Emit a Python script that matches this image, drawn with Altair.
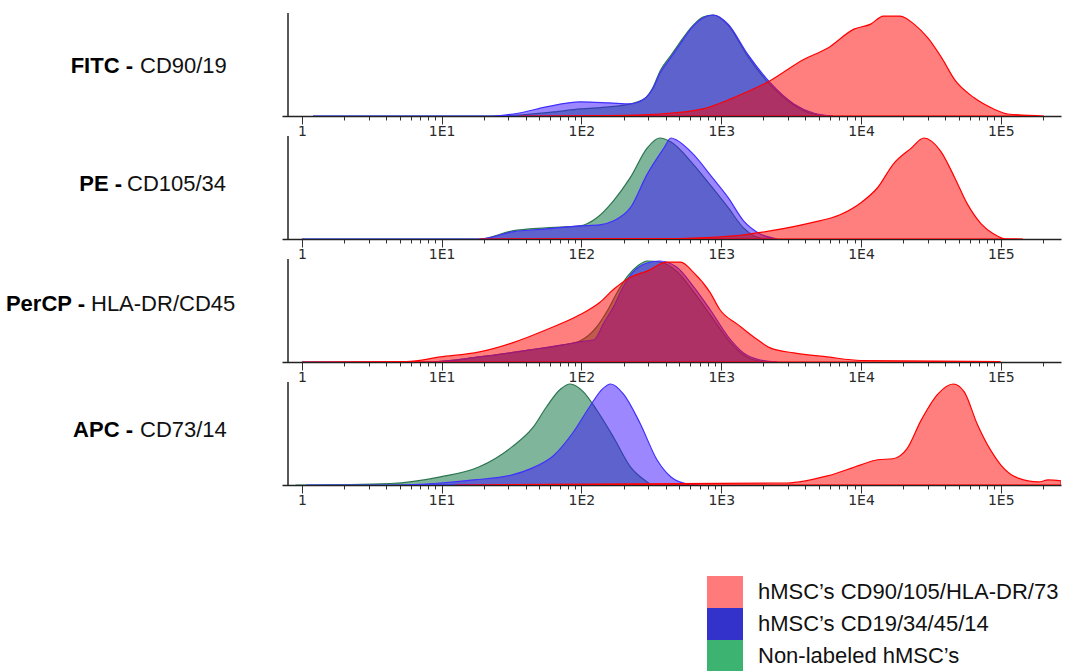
import altair as alt
import pandas as pd

# ---- data: x = fluorescence intensity, y = % of series maximum ----
fitc_green_x = [1.2, 23, 36, 63, 98, 158, 224, 282, 324, 367, 437, 490, 631, 741, 870, 1120, 1550, 2240, 3310, 4570, 6300]
fitc_green_y = [0, 0, 1, 4, 7, 9, 12, 17, 28, 45, 60, 70, 90, 98, 100, 90, 59, 31, 11, 2, 0]
fitc_blue_x = [1.2, 23, 36, 56, 98, 158, 224, 282, 324, 367, 437, 490, 631, 741, 880, 1120, 1550, 2240, 3310, 4570, 6300]
fitc_blue_y = [0, 0, 3, 9, 14, 13, 12, 17, 27, 43, 58, 68, 89, 97, 100, 91, 61, 33, 12, 3, 0]
fitc_red_x = [36, 158, 367, 741, 1318, 2239, 3890, 5754, 8913, 11749, 14454, 19055, 23988, 30200, 38019, 46774, 64565, 89125, 112202, 204174]
fitc_red_y = [0, 0.5, 2, 7, 20, 35, 56, 67, 86, 91, 99, 99, 91, 77, 57, 36, 18, 7, 2, 0]

pe_green_x = [1, 18.6, 32, 56, 98, 129, 170, 224, 295, 363, 437, 631, 851, 1122, 1445, 1905, 2512]
pe_green_y = [0, 0, 8, 11, 13, 21, 38, 61, 90, 100, 96, 74, 52, 31, 11, 1, 0]
pe_blue_x = [1, 18.6, 32, 56, 98, 135, 170, 224, 295, 389, 437, 479, 631, 851, 1122, 1445, 1905, 2512]
pe_blue_y = [0, 0, 7, 10, 13, 14, 18, 31, 64, 90, 100, 98, 84, 62, 41, 18, 5, 0]
pe_red_x = [18.6, 501, 1230, 2239, 4365, 7079, 10000, 13183, 16982, 22909, 28184, 37154, 46774, 57544, 72444, 89125, 104713, 144544]
pe_red_y = [0, 0.5, 3, 8, 16, 24, 36, 51, 74, 90, 100, 87, 61, 35, 15, 5, 0.5, 0]

percp_green_x = [1, 7.9, 18.6, 43, 74, 98, 129, 155, 182, 214, 257, 295, 363, 479, 631, 832, 1122, 1445, 1905, 2512]
percp_green_y = [0, 0, 5, 12, 17, 21, 35, 52, 70, 85, 96, 100, 99, 90, 70, 47, 22, 7, 1, 0]
percp_blue_x = [1, 7.9, 18.6, 43, 74, 98, 123, 145, 170, 200, 234, 295, 363, 479, 631, 832, 1122, 1445, 1905, 2512]
percp_blue_y = [0, 0, 5, 12, 17, 20, 22, 39, 55, 75, 89, 98, 100, 94, 75, 52, 25, 9, 2, 0]
percp_red_x = [1, 5.6, 9.8, 18.6, 32, 56, 98, 135, 170, 224, 295, 407, 513, 631, 832, 977, 1318, 1820, 2239, 3311, 5754, 10000, 97724, 100000]
percp_red_y = [0, 0.5, 5, 10, 19, 32, 47, 59, 72, 84, 90, 99, 99, 89, 69, 52, 37, 22, 14, 9, 5, 1.5, 0.5, 0]

apc_green_x = [0.9, 4.3, 9.8, 18.6, 32, 45, 56, 71, 83, 102, 129, 170, 224, 295, 316]
apc_green_y = [0, 1.5, 8, 18, 38, 57, 77, 95, 100, 93, 74, 47, 18, 3, 0]
apc_blue_x = [1.07, 4.3, 9.8, 17, 32, 43, 63, 87, 115, 141, 162, 200, 263, 347, 437, 575, 700]
apc_blue_y = [0, 0, 2, 5, 10, 16, 29, 52, 78, 95, 100, 90, 61, 25, 8, 1, 0]
apc_red_x = [12.6, 2951, 5754, 10000, 13183, 16982, 21380, 26915, 35481, 45709, 54954, 67608, 85114, 100000, 131826, 186209, 218776, 270000]
apc_red_y = [0, 2, 9, 20, 25, 26, 36, 64, 90, 100, 92, 61, 34, 20, 7, 3, 5, 4]

panel_bold = ["FITC -", "PE -", "PerCP -", "APC -"]
panel_regular = ["CD90/19", "CD105/34", "HLA-DR/CD45", "CD73/14"]
legend_names = ["hMSC\u2019s CD90/105/HLA-DR/73", "hMSC\u2019s CD19/34/45/14", "Non-labeled hMSC\u2019s"]
legend_colors = ["#FF7B7B", "#3333CC", "#3CB371"]
tick_values = [m * 10 ** k for k in range(0, 5) for m in range(1, 10)] + [100000, 200000]

series = [
    [(fitc_green_x, fitc_green_y), (fitc_blue_x, fitc_blue_y), (fitc_red_x, fitc_red_y)],
    [(pe_green_x, pe_green_y), (pe_blue_x, pe_blue_y), (pe_red_x, pe_red_y)],
    [(percp_green_x, percp_green_y), (percp_blue_x, percp_blue_y), (percp_red_x, percp_red_y)],
    [(apc_green_x, apc_green_y), (apc_blue_x, apc_blue_y), (apc_red_x, apc_red_y)],
]

# ---- styling ----
W, H = 779, 103
fills = ["#006B35", "#3B0FFF", "#FF0000"]
strokes = ["#2A7550", "#4030FF", "#FF0000"]
bold_right = [-149, -160, -197, -149]
regular_left = [-142, -155, -191, -142]
label_y = [53, 48, 45, 48]
LABEL_FONT = "Liberation Sans"

major = "indexof([1,10,100,1000,10000,100000], datum.value) >= 0"
xscale = alt.Scale(type="log", domain=[0.72, 270000], nice=False)
xaxis = alt.Axis(
    values=tick_values,
    title=None,
    grid=False,
    labelExpr=f"{major} ? (datum.value == 1 ? '1' : '1E' + round(log(datum.value)/LN10)) : ''",
    labelFont="DejaVu Sans",
    labelFontSize=14,
    labelColor="#2a2a2a",
    labelPadding=0,
    labelFlush=False,
    labelOverlap=False,
    tickSize={"condition": {"test": major, "value": 8}, "value": 4},
    tickColor="#333333",
    tickWidth=1,
    domainColor="#222222",
    domainWidth=1.5,
)
yscale = alt.Scale(domain=[0, 102], nice=False)


def make_panel(i):
    layers = []
    for k, (xs, ys) in enumerate(series[i]):
        df = pd.DataFrame({"x": xs, "y": ys})
        layers.append(
            alt.Chart(df)
            .mark_area(
                interpolate="monotone",
                fill=fills[k],
                fillOpacity=0.5,
                stroke=strokes[k],
                strokeWidth=1.2,
                clip=True,
            )
            .encode(
                x=alt.X("x:Q", scale=xscale, axis=xaxis),
                y=alt.Y("y:Q", scale=yscale, axis=None),
            )
        )
    one = pd.DataFrame({"a": [0]})
    layers.append(
        alt.Chart(one)
        .mark_rule(color="#222222", strokeWidth=1.5)
        .encode(x=alt.value(6), y=alt.value(0), y2=alt.value(H))
    )
    layers.append(
        alt.Chart(pd.DataFrame({"t": [panel_bold[i]]}))
        .mark_text(align="right", baseline="middle", font=LABEL_FONT + " Narrow, " + LABEL_FONT,
                   fontSize=22, fontWeight="bold", color="#000000")
        .encode(x=alt.value(bold_right[i]), y=alt.value(label_y[i]), text="t:N")
    )
    layers.append(
        alt.Chart(pd.DataFrame({"t": [panel_regular[i]]}))
        .mark_text(align="left", baseline="middle", font=LABEL_FONT,
                   fontSize=22, color="#111111")
        .encode(x=alt.value(regular_left[i]), y=alt.value(label_y[i]), text="t:N")
    )
    if i == 0:
        # invisible guide that pins the chart's left edge
        layers.append(
            alt.Chart(one)
            .mark_rule(opacity=0)
            .encode(x=alt.value(-281.5), y=alt.value(0), y2=alt.value(10))
        )
    if i == 3:
        leg = pd.DataFrame({"name": legend_names})
        layers.append(
            alt.Chart(leg)
            .mark_square(opacity=0)
            .encode(
                color=alt.Color(
                    "name:N",
                    sort=legend_names,
                    scale=alt.Scale(domain=legend_names, range=legend_colors),
                    legend=alt.Legend(
                        orient="none",
                        legendX=427,
                        legendY=563,
                        title=None,
                        symbolType="M-1.125,-1L1.125,-1L1.125,1L-1.125,1Z",
                        symbolSize=1024,
                        symbolStrokeWidth=0,
                        symbolOpacity=1,
                        labelFont=LABEL_FONT,
                        labelFontSize=22,
                        labelColor="#111111",
                        labelOffset=17,
                        labelLimit=400,
                        rowPadding=0,
                        padding=0,
                    ),
                )
            )
        )
    return alt.layer(*layers).properties(width=W, height=H)


chart = (
    alt.vconcat(*[make_panel(i) for i in range(4)], spacing=20, bounds="flush")
    .properties(padding={"left": 0, "top": 12, "right": 5, "bottom": 0})
    .configure_view(stroke=None)
)

chart.save("out.html", embed_options={"renderer": "svg", "actions": False})
